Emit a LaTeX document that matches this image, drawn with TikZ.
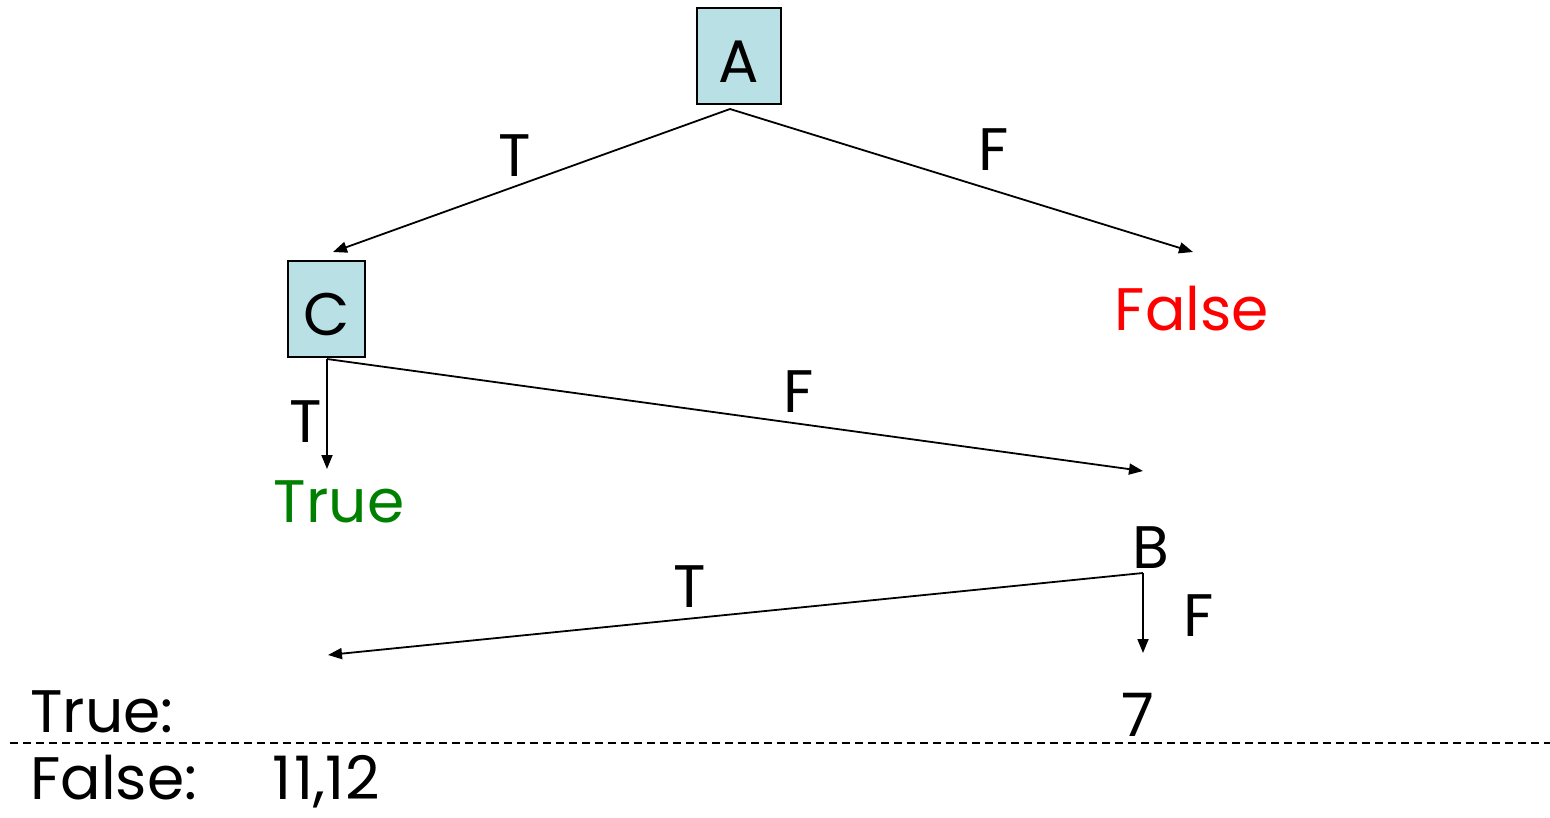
\documentclass[tikz,border=0pt]{standalone}
\usepackage{fontspec}
\setmainfont{Poppins}
\usetikzlibrary{arrows.meta}
\definecolor{boxblue}{RGB}{185,224,228}
\definecolor{truegreen}{RGB}{0,128,0}
\tikzset{
  lbl/.style={font=\fontsize{60}{66}\selectfont, inner sep=0pt, anchor=base},
  lbll/.style={lbl, anchor=base west},
  vbox/.style={draw=black, line width=1.5pt, fill=boxblue, inner sep=0pt},
  conn/.style={line width=1.8pt, -{Triangle[length=14pt,width=11pt]}},
}
\begin{document}
\begin{tikzpicture}[x=1pt,y=-1pt]
\useasboundingbox (0,0) rectangle (1550,817);
% boxes
\node[vbox, minimum width=84pt, minimum height=96pt] (A) at (739,56) {};
\node[lbl] (Atext) at (739,82) {A};
\node[vbox, minimum width=77pt, minimum height=96pt] (C) at (326.5,309) {};
\node[lbl] (Ctext) at (327,335) {C};
% leaves / texts
\node[lbl, text=red] (False) at (1192,330) {False};
\node[lbl, text=truegreen] (True) at (339,522) {True};
\node[lbl] (B) at (1151,568) {B};
\node[lbl] (seven) at (1138,736) {7};
% edge labels
\node[lbl] (t1) at (515,176) {T};
\node[lbl] (f1) at (994,170) {F};
\node[lbl] (t2) at (306,442) {T};
\node[lbl] (f2) at (799,412) {F};
\node[lbl] (t3) at (690,607) {T};
\node[lbl] (f3) at (1199,636) {F};
% bottom summary
\node[lbll] (trueL) at (30,732) {True:};
\node[lbll, text depth=0pt] (falseL) at (30,799) {False:};
\node[lbll, text depth=0pt] (nums) at (272,799) {1\kern3pt1,1\kern1pt2};
% connector coordinates
\coordinate (Aout) at (730,109);
\coordinate (Cin) at (333,252);
\coordinate (Fin) at (1193,252);
\coordinate (Cout) at (327,359);
\coordinate (Tin) at (327,469);
\coordinate (Bin) at (1143,471);
\coordinate (Bout) at (1143,573);
\coordinate (Lin) at (328,655);
\coordinate (Sin) at (1143,653);
\coordinate (dl) at (10,743);
\coordinate (dr) at (1550,743);
% connectors
\draw[conn] (Aout) -- (Cin);
\draw[conn] (Aout) -- (Fin);
\draw[conn] (Cout) -- (Tin);
\draw[conn] (Cout) -- (Bin);
\draw[conn] (Bout) -- (Lin);
\draw[conn] (Bout) -- (Sin);
\draw[line width=2pt, dash pattern=on 8pt off 5pt] (dl) -- (dr);
\end{tikzpicture}
\end{document}
